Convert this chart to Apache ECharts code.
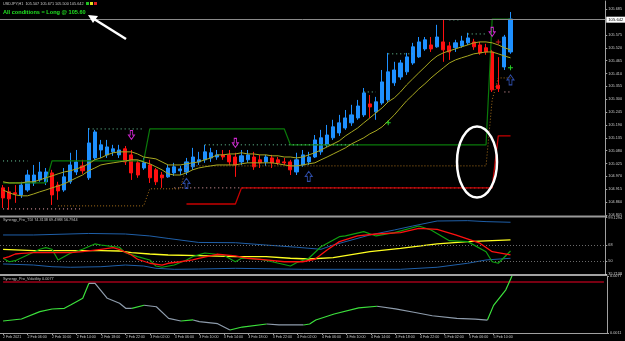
<!DOCTYPE html>
<html><head><meta charset="utf-8">
<script src="https://cdn.jsdelivr.net/npm/echarts@6/dist/echarts.min.js"></script>
<style>html,body{margin:0;padding:0;background:#000;}#c{width:625px;height:341px;}</style>
</head><body><div id="c"></div>
<script>
// ---------- DATA ----------
const priceTicks = [104.805,104.860,104.915,104.970,105.025,105.080,105.135,105.190,105.245,105.300,105.355,105.410,105.465,105.520,105.575,105.685];
const openP = [104.921,104.904,104.900,104.891,104.912,104.942,104.955,104.947,104.985,104.933,104.912,104.947,104.989,105.015,104.964,105.049,105.083,105.062,105.075,105.062,105.088,105.062,105.028,105.006,105.019,104.998,104.976,104.968,104.985,104.994,104.989,105.011,105.032,105.041,105.049,105.053,105.062,105.062,105.053,105.032,105.041,105.053,105.041,105.032,105.049,105.041,105.032,105.032,104.989,105.019,105.032,105.053,105.075,105.105,105.135,105.156,105.177,105.199,105.220,105.233,105.280,105.246,105.284,105.297,105.370,105.395,105.417,105.455,105.481,105.515,105.532,105.524,105.545,105.528,105.520,105.528,105.541,105.545,105.532,105.520,105.502,105.360,105.438,105.502];
const closeP = [104.878,104.874,104.895,104.933,104.976,104.976,104.989,104.989,104.891,104.908,104.968,105.019,105.032,104.994,105.113,105.160,105.105,105.096,105.088,105.083,105.032,104.985,104.976,105.028,104.964,104.947,104.964,105.006,105.011,105.002,105.032,105.053,105.041,105.075,105.071,105.062,105.053,105.032,105.019,105.058,105.062,105.011,105.028,105.053,105.028,105.028,105.028,104.998,105.041,105.062,105.053,105.126,105.135,105.147,105.182,105.199,105.220,105.233,105.271,105.327,105.267,105.289,105.374,105.417,105.425,105.455,105.481,105.524,105.545,105.554,105.515,105.566,105.511,105.502,105.541,105.549,105.562,105.524,105.498,105.502,105.340,105.345,105.566,105.643];
const lowP = [104.835,104.827,104.857,104.878,104.904,104.929,104.947,104.933,104.848,104.870,104.904,104.938,104.976,104.981,104.955,105.041,105.049,105.049,105.058,105.049,105.019,104.955,104.964,104.998,104.942,104.933,104.921,104.964,104.972,104.976,104.976,104.998,105.019,105.028,105.032,105.041,105.041,105.019,104.968,105.019,105.028,104.998,105.006,105.015,105.006,105.019,105.019,104.976,104.976,105.011,105.019,105.049,105.062,105.096,105.126,105.143,105.169,105.186,105.212,105.224,105.220,105.212,105.276,105.289,105.357,105.383,105.404,105.447,105.477,105.507,105.502,105.520,105.460,105.468,105.502,105.520,105.532,105.511,105.490,105.490,105.331,105.331,105.425,105.494];
const highP = [104.933,104.925,104.933,104.947,104.998,105.019,105.032,105.006,104.998,104.947,105.006,105.071,105.083,105.041,105.177,105.169,105.126,105.126,105.105,105.105,105.100,105.083,105.041,105.049,105.041,105.006,104.989,105.019,105.028,105.015,105.049,105.092,105.075,105.105,105.092,105.083,105.083,105.083,105.071,105.083,105.083,105.075,105.062,105.062,105.062,105.053,105.049,105.041,105.071,105.083,105.075,105.147,105.169,105.190,105.212,105.233,105.254,105.276,105.297,105.348,105.318,105.310,105.425,105.498,105.460,105.468,105.498,105.541,105.566,105.566,105.566,105.618,105.639,105.545,105.554,105.571,105.584,105.558,105.545,105.537,105.511,105.480,105.575,105.673];
const upperBand = [104.947,104.942,104.942,104.942,104.947,104.947,104.955,104.964,104.972,104.981,104.989,104.994,105.002,105.011,105.024,105.041,105.049,105.062,105.071,105.075,105.075,105.075,105.066,105.053,105.049,105.045,105.032,105.019,105.019,105.019,105.024,105.028,105.032,105.041,105.049,105.062,105.062,105.066,105.066,105.071,105.066,105.066,105.062,105.062,105.058,105.058,105.053,105.053,105.049,105.053,105.062,105.071,105.083,105.096,105.109,105.122,105.143,105.160,105.177,105.199,105.220,105.242,105.263,105.289,105.306,105.331,105.361,105.387,105.413,105.438,105.464,105.485,105.498,105.507,105.515,105.524,105.532,105.541,105.545,105.545,105.541,105.532,105.520,105.511];
const lowerBand = [104.912,104.900,104.891,104.887,104.887,104.895,104.904,104.912,104.921,104.929,104.938,104.951,104.964,104.976,104.994,105.006,105.019,105.024,105.028,105.032,105.036,105.041,105.041,105.032,105.024,105.011,104.998,104.981,104.976,104.976,104.985,104.998,105.006,105.011,105.015,105.019,105.019,105.019,105.019,105.024,105.028,105.028,105.028,105.028,105.028,105.024,105.019,105.015,105.015,105.019,105.024,105.028,105.041,105.053,105.066,105.079,105.092,105.109,105.122,105.135,105.152,105.165,105.182,105.207,105.233,105.263,105.293,105.318,105.344,105.366,105.391,105.413,105.434,105.455,105.468,105.477,105.485,105.494,105.498,105.502,105.502,105.494,105.485,105.477];
const greenStep = [[0,104.942],[7,104.942],[8,105.036],[23,105.036],[24,105.173],[46,105.173],[47,105.105],[79,105.105],[80,105.643],[83,105.643]];
const redStep = [[30,104.852],[38,104.852],[39,104.921],[80,104.921],[81,105.143],[83,105.143]];
const brownDots = [[9,104.844],[23,104.844],[24,104.917],[29,104.917],[30,105.015],[79,105.015],[80,105.297],[81,105.391],[83,105.391]];
const mintDotSegs = [[[0,105.036],[4,105.036]],[[14,105.173],[23,105.173]],[[33,105.105],[58,105.105]],[[59,105.331],[61,105.331]],[[63,105.494],[67,105.494]],[[73,105.639],[75,105.639]],[[76,105.579],[79,105.579]]];
const pinkDotSegs = [[[0,104.831],[13,104.831]],[[28,104.921],[80,104.921]],[[82,105.331],[83,105.331]]];
const sellArrows = [[21,105.147],[38,105.113],[80,105.588]];
const buyArrows = [[30,104.940],[50,104.970],[83,105.383]];
const greenCross = [[63,105.199],[83,105.434]];
const redCross = [[81,105.545]];
const bidPrice = 105.642;
// TDI pane
const tdiUpper = [[0,79.6],[5,79.6],[14,81.3],[20,80.7],[24,78.5],[27,75.7],[32,71.2],[38,70.9],[43,68.3],[48,65.8],[52,63.5],[54,68.3],[60,79.6],[64,85.2],[67,89.7],[71,95.3],[76,95.7],[79,94.6],[83,93.9]];
const tdiLower = [[0,47.0],[5,45.8],[8,43.9],[11,43.3],[16,43.9],[20,45.8],[23,44.7],[25,42.1],[28,41.0],[32,41.3],[38,42.1],[49,41.0],[65,41.0],[71,43.3],[76,47.8],[79,51.5],[83,53.4]];
const tdiBase = [[0,63.5],[5,61.9],[16,61.9],[19,61.6],[21,59.7],[24,58.2],[27,57.1],[32,56.3],[38,55.2],[43,55.2],[47,53.4],[50,52.6],[54,54.1],[60,60.8],[65,64.6],[71,69.5],[76,72.1],[83,74.0]];
const tdiSignal = [[0,53.4],[1,55.2],[2,58.2],[3,59.0],[5,59.7],[11,59.7],[13,60.8],[16,63.5],[18,65.3],[19,63.5],[21,57.1],[22,52.3],[24,47.8],[26,45.8],[27,47.8],[29,49.5],[31,51.5],[32,53.4],[35,57.9],[38,56.0],[40,53.4],[43,51.5],[46,49.5],[49,49.5],[51,52.3],[53,62.7],[55,72.1],[58,78.5],[61,80.7],[65,82.2],[68,87.1],[71,86.0],[74,79.6],[78,70.3],[80,60.8],[83,57.1]];
const tdiRsi = [[0,53.4],[1,49.5],[2,50.7],[4,57.1],[6,63.5],[7,65.3],[8,63.5],[9,51.5],[11,59.0],[13,63.5],[15,69.5],[16,68.3],[18,66.4],[19,65.8],[20,59.7],[22,55.2],[24,51.5],[25,44.7],[26,43.3],[28,45.8],[30,51.5],[31,55.2],[33,59.3],[36,57.1],[38,49.5],[39,53.4],[42,52.3],[44,49.5],[47,44.7],[48,48.4],[50,53.4],[52,66.4],[55,77.7],[56,78.5],[59,83.3],[61,78.5],[64,82.2],[68,89.7],[70,85.2],[73,73.2],[76,72.1],[79,60.8],[80,49.5],[81,47.8],[83,61.6]];
const tdiLevels = [68, 50];
const tdiTicks = [35.7138, 50, 68, 99.1294];
// Volatility pane
const volLine = [[0,0.00249],[3,0.00272],[6,0.00357],[8,0.00388],[10,0.00396],[11,0.00434],[13,0.00512],[14,0.00685],[15,0.00685],[17,0.00512],[19,0.00454],[20,0.00396],[21,0.00396],[23,0.00431],[25,0.00414],[27,0.00280],[29,0.00249],[31,0.00261],[32,0.00241],[35,0.00218],[37,0.00145],[39,0.00179],[43,0.00214],[45,0.00203],[49,0.00203],[50,0.00214],[51,0.00261],[54,0.0033],[58,0.0040],[61,0.0042],[64,0.0039],[67,0.0035],[70,0.0031],[74,0.0028],[77,0.0027],[79,0.0026],[80,0.0043],[82,0.0061],[83,0.0077]];
const volLevel = 0.0070;
const volTicks = [0.0011, 0.0077];

// ---------- BUILD ----------
const nSlots = 99, nBars = 84;
const categories = [];
for (let i = 0; i < nSlots; i++) {
  if (i >= nBars) { categories.push(''); continue; }
  const h = 2 + i, day = 2 + Math.floor(h / 24), hh = h % 24;
  categories.push(i === 0 ? '2 Feb 2021' : day + ' Feb ' + (hh < 10 ? '0' : '') + hh + ':00');
}
const candles = openP.map((o, i) => [o, closeP[i], lowP[i], highP[i]]);
const FONT = 'Liberation Sans';
const lab = '#C8C8C8';

function lineS(data, color, width, type, gridIdx, z) {
  return {type:'line', xAxisIndex:gridIdx, yAxisIndex:gridIdx, data:data, showSymbol:false, symbol:'none',
    lineStyle:{color:color, width:width, type:type||'solid'}, z:z||3, silent:true};
}
const series = [];
series.push({type:'candlestick', xAxisIndex:0, yAxisIndex:0, data:candles, barWidth:3.6, z:2,
  itemStyle:{color:'#1E90FF', color0:'#FF1010', borderColor:'#1E90FF', borderColor0:'#FF1010', borderWidth:1},
  markLine:{symbol:'none', silent:true, animation:false, data:[{yAxis:bidPrice}],
    lineStyle:{color:'#8A8A8A', width:1, type:'solid'},
    label:{position:'end', distance:1, formatter:bidPrice.toFixed(3), backgroundColor:'#FFFFFF', color:'#000', fontSize:4.2, fontFamily:FONT, padding:[1,2]}}
});
series.push(lineS(upperBand.map((v,i)=>[i,v]), '#A8A820', 1, 'solid', 0, 4));
series.push(lineS(lowerBand.map((v,i)=>[i,v]), '#A8A820', 1, 'solid', 0, 4));
series.push(lineS(greenStep, '#0A7A0A', 1.2, 'solid', 0, 3));
pinkDotSegs.forEach(s => series.push(lineS(s, '#F0A8B0', 1, [1,3], 0, 3)));
series.push(lineS(redStep, '#C80000', 1.3, 'solid', 0, 3));
series.push(lineS(brownDots, '#A8701A', 1, [1,2], 0, 3));
mintDotSegs.forEach(s => series.push(lineS(s, '#6ED0A0', 1, [1,3], 0, 3)));
series.push({type:'scatter', xAxisIndex:0, yAxisIndex:0, data:sellArrows, z:6, silent:true,
  symbol:'path://M3,0 L7,0 L7,6 L10,6 L5,12 L0,6 L3,6 Z', symbolSize:[6,9],
  itemStyle:{color:'rgba(0,0,0,0)', borderColor:'#FF30FF', borderWidth:1}});
series.push({type:'scatter', xAxisIndex:0, yAxisIndex:0, data:buyArrows, z:6, silent:true,
  symbol:'path://M5,0 L10,6 L7,6 L7,12 L3,12 L3,6 L0,6 Z', symbolSize:[7,10],
  itemStyle:{color:'rgba(0,0,0,0)', borderColor:'#3A5FD0', borderWidth:1}});
const plusPath = 'path://M2,0 L3,0 L3,2 L5,2 L5,3 L3,3 L3,5 L2,5 L2,3 L0,3 L0,2 L2,2 Z';
series.push({type:'scatter', xAxisIndex:0, yAxisIndex:0, data:greenCross, z:6, silent:true, symbol:plusPath, symbolSize:5, itemStyle:{color:'#30FF30'}});
series.push({type:'scatter', xAxisIndex:0, yAxisIndex:0, data:redCross, z:6, silent:true, symbol:plusPath, symbolSize:5, itemStyle:{color:'#FF2020'}});
// TDI
const tdiU = lineS(tdiUpper, '#1F5FA8', 1, 'solid', 1, 3);
tdiU.markLine = {symbol:'none', silent:true, animation:false, label:{show:false},
  lineStyle:{color:'#6A6A6A', type:[1,2], width:1}, data: tdiLevels.map(v=>({yAxis:v}))};
series.push(tdiU);
series.push(lineS(tdiLower, '#1F5FA8', 1, 'solid', 1, 3));
series.push(lineS(tdiBase, '#FFFF20', 1.3, 'solid', 1, 4));
series.push(lineS(tdiRsi, '#10A010', 1.2, 'solid', 1, 5));
series.push(lineS(tdiSignal, '#FF1010', 1.3, 'solid', 1, 6));
// Volatility: level line with its price box
series.push({type:'line', xAxisIndex:2, yAxisIndex:2, data:[[0,volLevel],[nSlots-1,volLevel]], silent:true,
  showSymbol:false, symbol:'none', z:3, lineStyle:{color:'#A00018', width:1.5},
  markLine:{symbol:'none', silent:true, animation:false, data:[{yAxis:volLevel}],
    lineStyle:{color:'#A00018', width:1.5, type:'solid'},
    label:{position:'end', distance:1, formatter:volLevel.toFixed(4), backgroundColor:'#D00018', color:'#fff', fontSize:4.2, fontFamily:FONT, padding:[1,2]}}});
// Volatility line: green while rising, grey while falling
let run = [volLine[0]], runUp = volLine[1][1] > volLine[0][1];
for (let k = 1; k < volLine.length; k++) {
  const up = volLine[k][1] > volLine[k-1][1];
  if (up !== runUp) {
    series.push(lineS(run, runUp ? '#3CE03C' : '#8E9CAC', 1.2, 'solid', 2, 4));
    run = [volLine[k-1]]; runUp = up;
  }
  run.push(volLine[k]);
}
series.push(lineS(run, runUp ? '#3CE03C' : '#8E9CAC', 1.2, 'solid', 2, 4));

function xAx(gridIdx, showLabels) {
  return {type:'category', gridIndex:gridIdx, data:categories, boundaryGap:true,
    axisLine:{show:showLabels, lineStyle:{color:'#A0A0A0', width:1}},
    axisTick:{show:showLabels, alignWithLabel:true, length:2, interval:(i)=> i%4===0 && i<nBars, lineStyle:{color:'#A0A0A0'}},
    axisLabel:{show:showLabels, interval:(i)=> i%4===0 && i<nBars, align:'left', margin:2, color:lab, fontSize:3.6, fontFamily:FONT},
    splitLine:{show:false}};
}
function yAx(gridIdx, min, max, ticks, fmt) {
  return {type:'value', gridIndex:gridIdx, position:'right', min:min, max:max, scale:true,
    axisLine:{show:true, lineStyle:{color:'#A0A0A0', width:1}}, splitLine:{show:false},
    axisTick:{show:true, length:2, customValues:ticks, lineStyle:{color:'#A0A0A0'}},
    axisLabel:{show:true, customValues:ticks, formatter:fmt, margin:3, color:lab, fontSize:3.8, fontFamily:FONT, showMinLabel:true, showMaxLabel:true}};
}

const option = {
  backgroundColor:'#000', animation:false,
  grid:[
    {left:-1, right:18, top:1, height:214},
    {left:-1, right:18, top:217.6, height:56.4},
    {left:-1, right:18, top:276, height:57}
  ],
  xAxis:[xAx(0,false), xAx(1,false), xAx(2,true)],
  yAxis:[
    yAx(0, 104.805, 105.7199, priceTicks, v=>v.toFixed(3)),
    yAx(1, 35.7138, 99.1294, tdiTicks, v=> (v===68||v===50) ? String(v) : v.toFixed(4)),
    yAx(2, 0.0011, 0.0077, volTicks, v=>v.toFixed(4))
  ],
  series: series,
  graphic:[
    {type:'line', shape:{x1:0,y1:216.5,x2:607,y2:216.5}, style:{stroke:'#9A9A9A', lineWidth:2}, z:10},
    {type:'line', shape:{x1:0,y1:275,x2:607,y2:275}, style:{stroke:'#D8D8D8', lineWidth:1.5}, z:10},
    {type:'text', left:3, top:2, style:{text:'USDJPY,H1  105.507 105.671 105.500 105.642', fill:'#C8C8C8', font:'3.8px "Liberation Sans"'}, z:10},
    {type:'rect', shape:{x:86,y:2,width:3,height:3}, style:{fill:'#20C020'}, z:10},
    {type:'rect', shape:{x:90,y:2,width:3,height:3}, style:{fill:'#E0E020'}, z:10},
    {type:'rect', shape:{x:94,y:2,width:3,height:3}, style:{fill:'#E02020'}, z:10},
    {type:'text', left:3, top:9, style:{text:'All conditions = Long @ 105.60', fill:'#20E020', font:'bold 5.6px "Liberation Sans"'}, z:10},
    {type:'text', left:3, top:218, style:{text:'Synergy_Pro_TDI 74.3138 69.4988 56.7944', fill:'#C0C0C0', font:'3.8px "Liberation Sans"'}, z:10},
    {type:'text', left:3, top:277, style:{text:'Synergy_Pro_Volatility 0.0077', fill:'#C0C0C0', font:'3.8px "Liberation Sans"'}, z:10},
    {type:'ellipse', shape:{cx:477, cy:162, rx:20, ry:35.5}, style:{fill:'none', stroke:'#FFFFFF', lineWidth:2.5}, z:20},
    {type:'line', shape:{x1:126,y1:39,x2:94,y2:19}, style:{stroke:'#FFFFFF', lineWidth:2.5}, z:20},
    {type:'polygon', shape:{points:[[88,15],[98,16],[93,23]]}, style:{fill:'#FFFFFF'}, z:20}
  ]
};
const chart = echarts.init(document.getElementById('c'), null, {renderer:'canvas'});
chart.setOption(option);
</script></body></html>
